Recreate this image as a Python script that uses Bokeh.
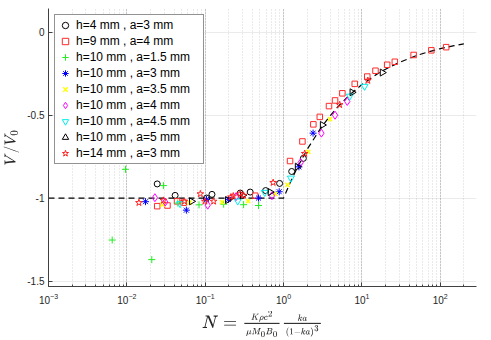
import math
from bokeh.plotting import figure
from bokeh.models import ColumnDataSource, Legend, LegendItem, FixedTicker
from bokeh.embed import file_html
from bokeh.resources import INLINE

# ---------------- data ----------------
labels = [
    "h=4 mm , a=3 mm",
    "h=9 mm , a=4 mm",
    "h=10 mm , a=1.5 mm",
    "h=10 mm , a=3 mm",
    "h=10 mm , a=3.5 mm",
    "h=10 mm , a=4 mm",
    "h=10 mm , a=4.5 mm",
    "h=10 mm , a=5 mm",
    "h=14 mm , a=3 mm",
]

h4a3_N = [0.0244, 0.0413, 0.104, 0.122, 0.28, 0.375, 0.59, 0.89, 1.27, 1.79]
h4a3_V = [-0.915, -0.984, -1.0, -0.978, -0.970, -0.964, -0.955, -0.912, -0.84, -0.761]

h9a4_N = [0.0244, 0.033, 0.0437, 0.053, 0.434, 1.21, 1.74, 2.4, 2.9, 3.8, 4.54, 5.63, 8.1,
          11.7, 14.9, 21.0, 26.3, 45.7, 76.9, 119.0]
h9a4_V = [-1.049, -1.045, -1.02, -1.028, -0.986, -0.777, -0.659, -0.556, -0.511, -0.446, -0.412,
          -0.369, -0.312, -0.268, -0.233, -0.197, -0.179, -0.138, -0.110, -0.091]

h10a15_N = [0.0065, 0.0096, 0.0208, 0.0293, 0.0447, 0.0834, 0.172, 0.309, 0.479]
h10a15_V = [-1.253, -0.827, -1.371, -0.925, -1.03, -1.041, -1.037, -1.04, -1.045]

h10a3_N = [0.0173, 0.0575, 0.104, 0.198, 0.479, 0.88, 1.57, 2.38]
h10a3_V = [-1.022, -1.073, -1.008, -1.008, -1.0, -0.962, -0.812, -0.609]

h10a35_N = [0.0285, 0.063, 0.164, 0.353, 0.784, 1.12, 2.07, 3.92]
h10a35_V = [-1.04, -1.028, -1.025, -1.018, -0.975, -0.921, -0.722, -0.525]

h10a4_N = [0.0228, 0.0309, 0.1076, 0.247, 0.711, 1.65, 3.04, 4.54, 6.5]
h10a4_V = [-0.998, -1.024, -1.043, -0.992, -0.986, -0.787, -0.609, -0.501, -0.418]

h10a45_N = [0.0478, 0.26, 0.575, 1.24, 7.0, 10.8]
h10a45_V = [-1.034, -1.018, -0.966, -0.880, -0.386, -0.327]

h10a5_N = [0.067, 0.193, 0.30, 0.676, 1.50, 3.13, 7.5, 18.2]
h10a5_V = [-1.02, -1.012, -0.984, -0.964, -0.811, -0.56, -0.363, -0.244]

h14a3_N = [0.01426, 0.0293, 0.0542, 0.0867, 0.099, 0.128, 0.213, 0.228, 0.279, 0.309, 0.736,
           1.86, 5.2, 11.9]
h14a3_V = [-1.028, -1.014, -1.02, -0.975, -1.02, -1.02, -0.994, -0.988, -0.975, -0.984, -0.907,
           -0.732, -0.438, -0.292]

# dashed model curve
model_N = [0.001, 1.0, 1.2, 1.5, 2.0, 3.0, 4.0, 5.0, 7.0, 10.0, 15.0, 20.0, 30.0, 50.0, 70.0,
           100.0, 150.0, 200.0]
model_V = [-1.0, -1.0, -0.913, -0.816, -0.707, -0.577, -0.5, -0.447, -0.378, -0.316, -0.258,
           -0.224, -0.183, -0.141, -0.120, -0.100, -0.082, -0.071]

y_ticks = [-1.5, -1.0, -0.5, 0.0]
y_tick_labels = ["-1.5", "-1", "-0.5", "0"]

series = [
    (h4a3_N, h4a3_V), (h9a4_N, h9a4_V), (h10a15_N, h10a15_V), (h10a3_N, h10a3_V),
    (h10a35_N, h10a35_V), (h10a4_N, h10a4_V), (h10a45_N, h10a45_V), (h10a5_N, h10a5_V),
    (h14a3_N, h14a3_V),
]

# ---------------- styles ----------------
styles = [
    dict(marker="circle", color="#000000", size=6, angle=0.0, lw=1),
    dict(marker="square", color="#ff2a2a", size=5.5, angle=0.0, lw=1),
    dict(marker="cross", color="#22ee22", size=7, angle=0.0, lw=1),
    dict(marker="asterisk", color="#0000ff", size=7, angle=0.0, lw=1),
    dict(marker="x", color="#ffff00", size=6, angle=0.0, lw=1.4),
    dict(marker="diamond", color="#ff00ff", size=8, angle=0.0, lw=1),
    dict(marker="inverted_triangle", color="#00eeee", size=7, angle=0.0, lw=1),
    dict(marker="triangle", color="#000000", size=7, angle=-math.pi / 2, lw=1),
    dict(marker="star", color="#ff2020", size=7, angle=0.0, lw=1),
]

axis_col = "#404040"
p = figure(width=491, height=340, x_axis_type="log",
           x_range=(1e-3, 290), y_range=(-1.533, 0.142),
           output_backend="svg", toolbar_location=None,
           min_border_left=47, min_border_right=15, min_border_top=8, min_border_bottom=49)
p.outline_line_color = None
p.background_fill_color = "white"

# grids
p.xgrid.grid_line_color = "#262626"
p.xgrid.grid_line_alpha = 0.09
p.xgrid.minor_grid_line_color = "#262626"
p.xgrid.minor_grid_line_alpha = 0.2
p.xgrid.minor_grid_line_dash = "1 2"
p.ygrid.grid_line_color = "#262626"
p.ygrid.grid_line_alpha = 0.09
p.ygrid.ticker = FixedTicker(ticks=y_ticks)

# axes
p.yaxis.ticker = FixedTicker(ticks=y_ticks)
p.yaxis.major_label_overrides = {t: l for t, l in zip(y_ticks, y_tick_labels)}
for ax in (p.xaxis[0], p.yaxis[0]):
    ax.axis_line_color = axis_col
    ax.major_tick_line_color = axis_col
    ax.minor_tick_line_color = axis_col
    ax.major_tick_in = 4
    ax.major_tick_out = 0
    ax.major_label_text_font = "Liberation Sans"
    ax.major_label_text_font_size = "10px"
    ax.major_label_text_color = "#262626"
    ax.axis_label_text_font_style = "normal"
    ax.axis_label_text_color = "#262626"
p.xaxis.axis_label_text_font_size = "14px"
p.yaxis.axis_label_text_font_size = "13px"
p.xaxis.minor_tick_in = 2
p.xaxis.minor_tick_out = 0
p.yaxis.minor_tick_in = 0
p.yaxis.minor_tick_out = 0
p.xaxis.major_label_standoff = 6
p.yaxis.major_label_standoff = 4
p.xaxis.axis_label = (r"$$N = \tfrac{\scriptscriptstyle K\rho c^2}"
                      r"{\scriptscriptstyle \mu M_0 B_0}"
                      r"\tfrac{\scriptscriptstyle ka}{\scriptscriptstyle (1-ka)^3}$$")
p.yaxis.axis_label = r"$$V/V_0$$"
p.xaxis.axis_label_standoff = 4
p.yaxis.axis_label_standoff = 5

# model curve
p.line(model_N, model_V, line_color="black", line_width=1.2, line_dash="6 4")

items = []
for (n, v), st, lab in zip(series, styles, labels):
    src = ColumnDataSource(dict(N=n, V=v))
    r = p.scatter("N", "V", source=src, marker=st["marker"], size=st["size"],
                  angle=st["angle"], fill_color=None, line_color=st["color"],
                  line_width=st["lw"])
    items.append(LegendItem(label=lab, renderers=[r]))

legend = Legend(items=items, location="top_left", margin=6, padding=2, spacing=0,
                glyph_width=16, glyph_height=16, label_height=16, label_width=125,
                label_standoff=3, label_text_font="Liberation Sans",
                label_text_font_size="12px", label_text_color="#000000",
                border_line_color="#262626", border_line_width=1,
                background_fill_color="white", background_fill_alpha=1.0)
p.add_layout(legend, "center")

open("out.html", "w").write(file_html(p, INLINE))
